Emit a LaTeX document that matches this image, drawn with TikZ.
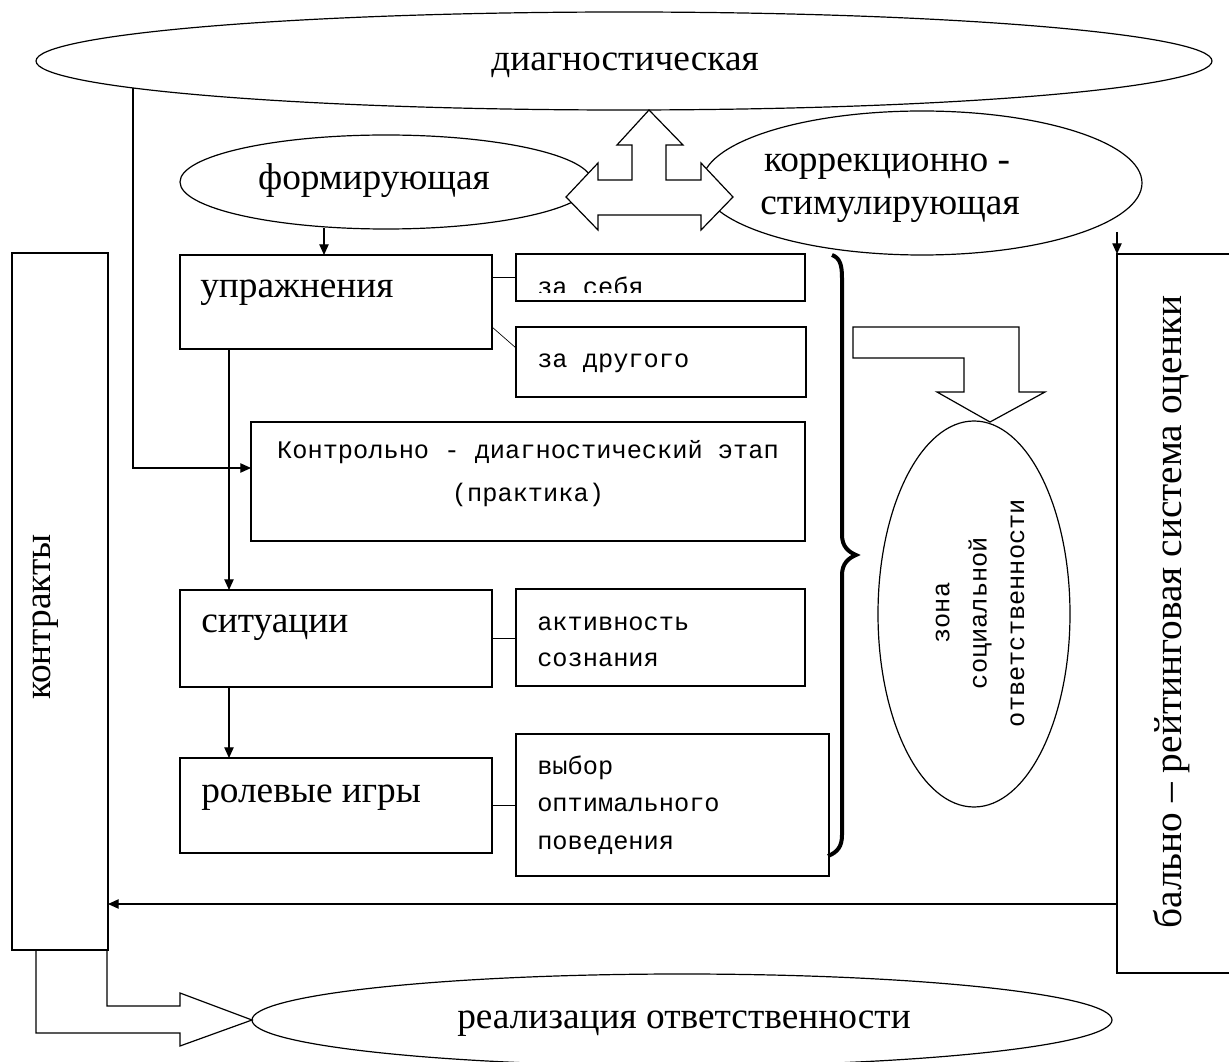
\documentclass[tikz,border=0pt]{standalone}
\usepackage{fontspec}
\setmainfont{Liberation Serif}
\newfontfamily\monof{Liberation Mono}
\usetikzlibrary{arrows.meta,shapes.geometric}
\def\u{0.75pt}
\begin{document}
\begin{tikzpicture}[x=0.75pt,y=-0.75pt,
  ln/.style={line width=0.9pt},
  box/.style={draw,line width=0.9pt,anchor=north west,inner sep=0pt,outer sep=0pt},
  ell/.style={draw,ellipse,line width=0.9pt,inner sep=0pt,outer sep=0pt},
  big/.style={font=\fontsize{28}{32}\selectfont,inner sep=0pt},
  small/.style={font=\monof\fontsize{19}{28}\selectfont,inner sep=0pt},
  arr/.style={line width=0.9pt,-{Triangle[length=8pt,width=7pt]}},
  blockarrow/.style={draw,fill=white,line width=0.9pt,line join=miter}]
\useasboundingbox (0,0) rectangle (1229,1062);
\fill[white] (0,0) rectangle (1229,1062);
\clip (0,0) rectangle (1229,1062);

% ellipses
\node[ell,minimum width=1176*\u,minimum height=98*\u] (diag) at (624,61) {};
\node[big,anchor=base] (diagt) at (625,71) {диагностическая};
\node[ell,minimum width=412*\u,minimum height=94*\u] (form) at (386,182) {};
\node[big,anchor=base] (formt) at (374,190) {формирующая};
\node[ell,minimum width=440*\u,minimum height=144*\u] (korr) at (922,183) {};
\node[big,anchor=base] (korrt1) at (887,172) {коррекционно -};
\node[big,anchor=base] (korrt2) at (890,215) {стимулирующая};

% three-way block arrow
\path[blockarrow] (566,197) -- (598,163) -- (598,180) -- (632,180) -- (632,145) -- (617,145)
  -- (649,110) -- (683,145) -- (666,145) -- (666,180) -- (701,180) -- (701,163) -- (733,197)
  -- (701,230) -- (701,215) -- (598,215) -- (598,230) -- cycle;

% side boxes
\node[box,minimum width=96*\u,minimum height=697*\u] (kontr) at (12,253) {};
\node[big,rotate=90] (kontrt) at (46,617) {контракты};
\node[box,minimum width=130*\u,minimum height=719*\u] (ball) at (1117,254) {};
\node[inner sep=0pt,font=\fontsize{29.5}{34}\selectfont,rotate=90] (ballt) at (1172,612) {бально – рейтинговая система оценки};

% left column boxes
\node[box,minimum width=312*\u,minimum height=94*\u] (upr) at (180,255) {};
\node[big,anchor=base west] (uprt) at (200,298) {упражнения};
\node[box,minimum width=312*\u,minimum height=97*\u] (sit) at (180,590) {};
\node[big,anchor=base west] (sitt) at (201,633) {ситуации};
\node[box,minimum width=312*\u,minimum height=95*\u] (rol) at (180,758) {};
\node[big,anchor=base west] (rolt) at (201,802) {ролевые игры};

% right column boxes
\node[box,minimum width=289*\u,minimum height=47*\u] (zas) at (516,254) {};
\begin{scope}
\clip (516,254) rectangle (805,293);
\node[small,anchor=base west] (zast) at (537,296) {за себя};
\end{scope}
\node[box,minimum width=290*\u,minimum height=70*\u] (zad) at (516,327) {};
\node[small,anchor=base west] (zadt) at (537,368) {за другого};
\node[box,minimum width=554*\u,minimum height=119*\u] (kd) at (251,422) {};
\node[small] (kdt1) at (528,452) {Контрольно - диагностический этап};
\node[small] (kdt2) at (528,495) {(практика)};
\node[box,minimum width=289*\u,minimum height=97*\u] (akt) at (516,589) {};
\node[small,anchor=base west] (akt1) at (537,630) {активность};
\node[small,anchor=base west] (akt2) at (537,666) {сознания};
\node[box,minimum width=313*\u,minimum height=142*\u] (vyb) at (516,734) {};
\node[small,anchor=base west] (vyb1) at (537,774) {выбор};
\node[small,anchor=base west] (vyb2) at (537,811) {оптимального};
\node[small,anchor=base west] (vyb3) at (537,849) {поведения};

% zone ellipse
\node[ell,minimum width=192*\u,minimum height=386*\u] (zone) at (974,614) {};
\node[small,rotate=90,align=center] (zonet) at (980,613) {зона\\социальной\\ответственности};

% bottom ellipse
\node[ell,minimum width=860*\u,minimum height=92*\u] (real) at (682,1020) {};
\node[big,anchor=base] (realt) at (684,1028) {реализация ответственности};

% connectors
\coordinate (fbot) at (324,228);
\draw[arr] (fbot) -- (fbot |- upr.north);
\coordinate (dline) at (133,88);
\coordinate (dturn) at (133,468);
\draw[arr] (dline) -- (dturn) -- (dturn -| kd.west);
\draw[arr] ([xshift=49*\u]upr.south west) -- ([xshift=49*\u]sit.north west);
\draw[arr] ([xshift=49*\u]sit.south west) -- ([xshift=49*\u]rol.north west);
\draw[ln] (upr.north east |- zas.west) -- (zas.west);
\draw[line width=0.5pt] ([yshift=-72*\u]upr.north east) -- ([yshift=-21*\u]zad.north west);
\draw[ln] (sit.east) -- (sit.east -| akt.west);
\draw[ln] (rol.east) -- (rol.east -| vyb.west);
\coordinate (bt) at (1117,232);
\draw[arr] (bt) -- (bt |- ball.north);
\coordinate (bl) at (1117,904);
\draw[arr] (bl) -- (bl -| kontr.east);

% brace
\draw[line width=3pt] (832,255) .. controls (840,258) and (842,265) .. (842,278) -- (842,535)
  .. controls (842,547) and (849,552) .. (856,555) .. controls (849,558) and (842,563) .. (842,575)
  -- (842,835) .. controls (842,846) and (838,852) .. (828,856);

% bent down block arrow
\path[blockarrow] (853,327) -- (1019,327) -- (1019,392) -- (1045,392) -- (990,422) -- (937,392)
  -- (964,392) -- (964,358) -- (853,358) -- cycle;

% bottom-left bent block arrow
\coordinate (ka) at ([xshift=24*\u]kontr.south west);
\coordinate (kb) at ([xshift=-1*\u]kontr.south east);
\draw[ln,line join=miter] (ka) |- (180,1033) -- (180,1046) -- (real.west) -- (180,993) -- (180,1006) -| (kb);
\end{tikzpicture}
\end{document}
